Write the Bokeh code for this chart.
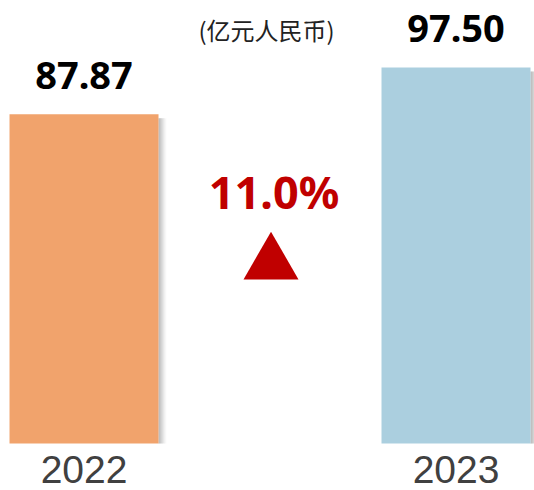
from bokeh.plotting import figure
from bokeh.models import Range1d, Label, ColumnDataSource
from bokeh.core.properties import value
from bokeh.embed import file_html
from bokeh.resources import INLINE

# ---- data ----
years = ["2022", "2023"]
profits = [87.87, 97.50]
bar_colors = ["#F1A36C", "#ABCFDF"]
value_labels = ["87.87", "97.50"]
subtitle = "(亿元人民币)"
axis_min = 20

growth = (profits[1] / profits[0] - 1) * 100
growth_label = f"{growth:.1f}%"

# ---- layout constants ----
W, H = 534, 490
X_START, X_END = -0.2245, 1.2110
Y_START, Y_END = 10.31, 111.31
PX = (X_END - X_START) / W      # one screen pixel in x units
PY = (Y_END - Y_START) / H      # one screen pixel in y units
BAR_W = 149 * PX
xs = list(range(len(years)))

p = figure(width=W, height=H, output_backend="svg", toolbar_location=None,
           x_range=Range1d(X_START, X_END), y_range=Range1d(Y_START, Y_END),
           x_axis_location=None, y_axis_location=None, min_border=0,
           background_fill_color="white", border_fill_color="white")
p.outline_line_color = None
p.grid.visible = False

# shadows (soft grey gradient to the right of each bar)
n_sh = 8
for i in range(n_sh):
    alpha = 0.6 * (1 - i / n_sh) ** 1.4
    lefts = [x + BAR_W / 2 + i * PX for x in xs]
    rights = [l + PX for l in lefts]
    tops = [v - 4 * PY for v in profits]
    p.quad(left=lefts, right=rights, top=tops, bottom=[axis_min] * len(xs),
           fill_color="#7a7a7a", fill_alpha=alpha, line_color=None)

src = ColumnDataSource(dict(x=xs, top=profits, color=bar_colors,
                            label=value_labels, year=years))
p.vbar(x="x", top="top", bottom=axis_min, width=BAR_W, fill_color="color",
       line_color=None, source=src)

# value labels
p.text(x="x", y="top", text="label", source=src, text_align="center",
       text_baseline="alphabetic", y_offset=-39,
       text_font=value("Noto Sans"), text_font_style="bold",
       text_font_size="38px", text_color="black")

# year labels
p.text(x="x", y=axis_min, text="year", source=src, text_align="center",
       text_baseline="alphabetic", y_offset=26,
       text_font=value("Liberation Sans"), text_font_size="39px",
       text_color="#404040")

# subtitle
p.add_layout(Label(x=266, y=H - 29, x_units="screen", y_units="screen",
                   text=subtitle, text_align="center", text_baseline="middle",
                   text_font="Noto Sans CJK SC", text_font_size="24px",
                   text_color="#222222"))

# growth indicator
mid_x = sum(xs) / len(xs)
GROWTH_TEXT_Y = Y_END - 191 * PY
TRI_Y = Y_END - 263 * PY
p.text(x=[mid_x + 4 * PX], y=[GROWTH_TEXT_Y], text=[growth_label],
       text_align="center", text_baseline="alphabetic",
       text_font=value("Noto Sans"), text_font_style="bold",
       text_font_size="45px", text_color="#C00000")
p.scatter(x=[mid_x + 1 * PX], y=[TRI_Y], marker="triangle", size=55,
          fill_color="#C00000", line_color=None)

open("out.html", "w").write(file_html(p, INLINE))
